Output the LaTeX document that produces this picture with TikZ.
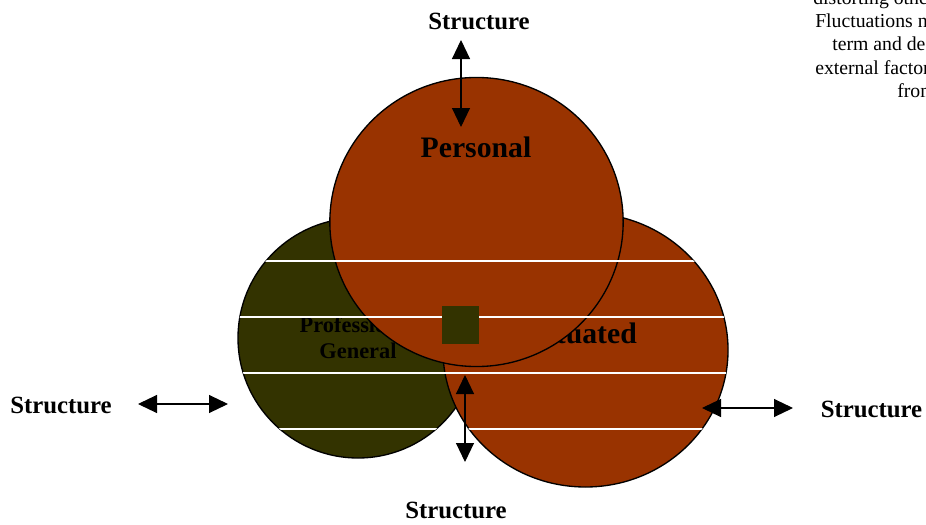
\documentclass[tikz,border=0pt]{standalone}
\usepackage{fontspec}
\setmainfont{Liberation Serif}
\usetikzlibrary{arrows.meta}
\definecolor{rust}{HTML}{993300}
\definecolor{olivedk}{HTML}{333300}
\begin{document}
\begin{tikzpicture}[x=0.75pt,y=-0.75pt,
  blob/.style={draw=black,line width=1pt},
  stlbl/.style={font=\bfseries\fontsize{18.6}{22}\selectfont,inner sep=0pt,anchor=base},
  biglbl/.style={font=\bfseries\fontsize{22.3}{26}\selectfont,inner sep=0pt,anchor=base},
  midlbl/.style={font=\bfseries\fontsize{16.8}{19.5}\selectfont,inner sep=0pt,anchor=base,align=center},
  dbl/.style={{Triangle[length=14.25pt,width=13.5pt]}-{Triangle[length=14.25pt,width=13.5pt]},line width=0.8pt},
  para/.style={font=\fontsize{14.8}{17}\selectfont,inner sep=0pt,anchor=base west},
  stripe/.style={white,line width=0.8pt}]
\useasboundingbox (0,0) rectangle (926,525);

% centres
\coordinate (cL) at (358,338);
\coordinate (cR) at (585.5,350);
\coordinate (cP) at (476.5,222);

% lower circles
\filldraw[blob,fill=olivedk] (cL) circle[radius=90pt];
\filldraw[blob,fill=rust] (cR) ellipse[x radius=106.9pt,y radius=102.75pt];

% texts partly hidden by the top circle
\node[midlbl] (prof) at (358,358) {Professional\\General};
\node[biglbl] (sit) at (584,343) {Situated};

% top circle
\filldraw[blob,fill=rust] (cP) ellipse[x radius=110pt,y radius=108.4pt];

% white stripes over the union of circles
\begin{scope}
  \clip (cL) circle[radius=90pt]
        (cR) ellipse[x radius=106.9pt,y radius=102.75pt]
        (cP) ellipse[x radius=110pt,y radius=108.4pt];
  \foreach \yy in {261,317,373,429}
    \draw[stripe] (220,\yy) -- (760,\yy);
\end{scope}

% small square
\node[fill=olivedk,minimum width=27.75pt,minimum height=28.5pt,inner sep=0pt] (sq) at (460.5,325) {};

\node[biglbl] (pers) at (476,157) {Personal};

% Structure labels
\node[stlbl] (stT) at (479,29) {Structure};
\node[stlbl] (stL) at (61,413) {Structure};
\node[stlbl] (stR) at (871.5,417) {Structure};
\node[stlbl] (stB) at (456,518) {Structure};

% arrow ends
\coordinate (aT1) at (461,40);  \coordinate (aT2) at (461,127);
\coordinate (aB1) at (465,375); \coordinate (aB2) at (465,462);
\coordinate (aL1) at (138,404); \coordinate (aL2) at (228,404);
\coordinate (aR1) at (702,408); \coordinate (aR2) at (793,408);
\draw[dbl] (aT1) -- (aT2);
\draw[dbl] (aB1) -- (aB2);
\draw[dbl] (aL1) -- (aL2);
\draw[dbl] (aR1) -- (aR2);

% clipped paragraph at top right
\node[para] (p1) at (813,4) {distorting othe};
\node[para] (p2) at (815,27) {Fluctuations n};
\node[para] (p3) at (832,50) {term and de};
\node[para] (p4) at (815,74) {external factor};
\node[para] (p5) at (897,97) {from};
\end{tikzpicture}
\end{document}
